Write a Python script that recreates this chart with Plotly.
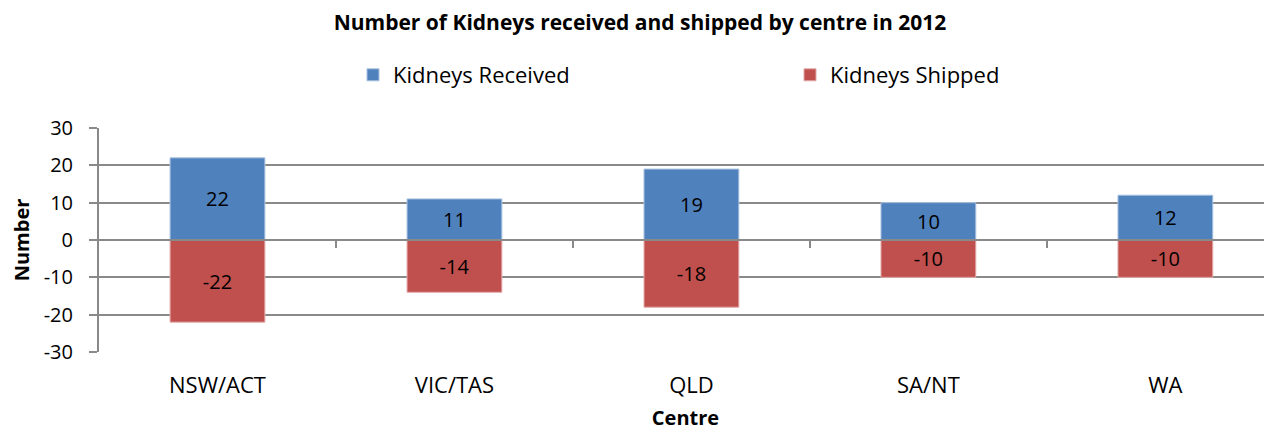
import plotly.graph_objects as go

categories = ["NSW/ACT", "VIC/TAS", "QLD", "SA/NT", "WA"]
received = [22, 11, 19, 10, 12]
shipped = [-22, -14, -18, -10, -10]
y_tick_values = [-30, -20, -10, 0, 10, 20, 30]
y_tick_labels = ["-30", "-20", "-10", "0", "10", "20", "30"]
boundary_ticks = [0.5, 1.5, 2.5, 3.5]

FONT = "'Open Sans', Lato, sans-serif"
GRID = "#898989"

# The page body has an 8px default margin, so the figure is sized to fill the
# rest of the 1272x431 window.
W, H = 1264, 423

fig = go.Figure()
fig.add_trace(go.Bar(
    x=categories, y=received, name="Kidneys Received",
    marker=dict(color="#4F81BD", line=dict(color="#A9C1DF", width=1)),
    width=0.4, text=[str(v) for v in received], textposition="inside",
    insidetextanchor="middle", textfont=dict(color="black", size=20, family=FONT),
))
fig.add_trace(go.Bar(
    x=categories, y=shipped, name="Kidneys Shipped",
    marker=dict(color="#C0504D", line=dict(color="#E2AAA9", width=1)),
    width=0.4, text=[str(v) for v in shipped], textposition="inside",
    insidetextanchor="middle", textfont=dict(color="black", size=20, family=FONT),
))
# helper axis: horizontal axis line at zero with ticks between categories
fig.add_trace(go.Scatter(x=[], y=[], xaxis="x2", yaxis="y", showlegend=False, hoverinfo="skip"))

fig.update_layout(
    width=W, height=H,
    margin=dict(l=91, r=0, t=120, b=79, autoexpand=False),
    paper_bgcolor="white", plot_bgcolor="white",
    font=dict(family=FONT, color="black", size=20),
    barmode="relative",
    title=dict(text="<b>Number of Kidneys received and shipped by centre in 2012</b>",
               x=0.5, xanchor="center", xref="container",
               y=1 - 15 / H, yanchor="middle", yref="container",
               font=dict(size=21, family=FONT, color="black")),
    legend=dict(orientation="h", xref="container", yref="container",
                x=345 / W, xanchor="left", y=1 - 67 / H, yanchor="middle",
                entrywidth=392, entrywidthmode="pixels",
                font=dict(size=22, family=FONT, color="black"),
                bgcolor="rgba(0,0,0,0)", traceorder="normal"),
    xaxis=dict(type="category", range=[-0.5, 4.45], showgrid=False, showline=False,
               zeroline=False, ticks="", ticklabelstandoff=18, automargin=False,
               tickfont=dict(size=22, family=FONT, color="black"),
               title=dict(text="<b>Centre</b>", standoff=14,
                          font=dict(size=20, family=FONT, color="black"))),
    xaxis2=dict(overlaying="x", anchor="free", position=0.5, side="bottom",
                range=[-0.5, 4.45], showgrid=False, zeroline=False, automargin=False,
                showline=True, linecolor=GRID, linewidth=2, layer="above traces",
                tickvals=boundary_ticks, ticks="outside", ticklen=7, tickwidth=2,
                tickcolor=GRID, showticklabels=False),
    yaxis=dict(range=[-30, 30], tickvals=y_tick_values, ticktext=y_tick_labels,
               showgrid=True, gridcolor=GRID, gridwidth=2, automargin=False,
               zeroline=False, showline=True, linecolor=GRID, linewidth=2,
               ticks="outside", ticklen=8, tickwidth=2, tickcolor=GRID,
               ticklabelstandoff=12,
               tickfont=dict(size=20, family=FONT, color="black"),
               title=dict(text="<b>Number</b>", standoff=10,
                          font=dict(size=20, family=FONT, color="black"))),
)

fig.write_html("out.html")
